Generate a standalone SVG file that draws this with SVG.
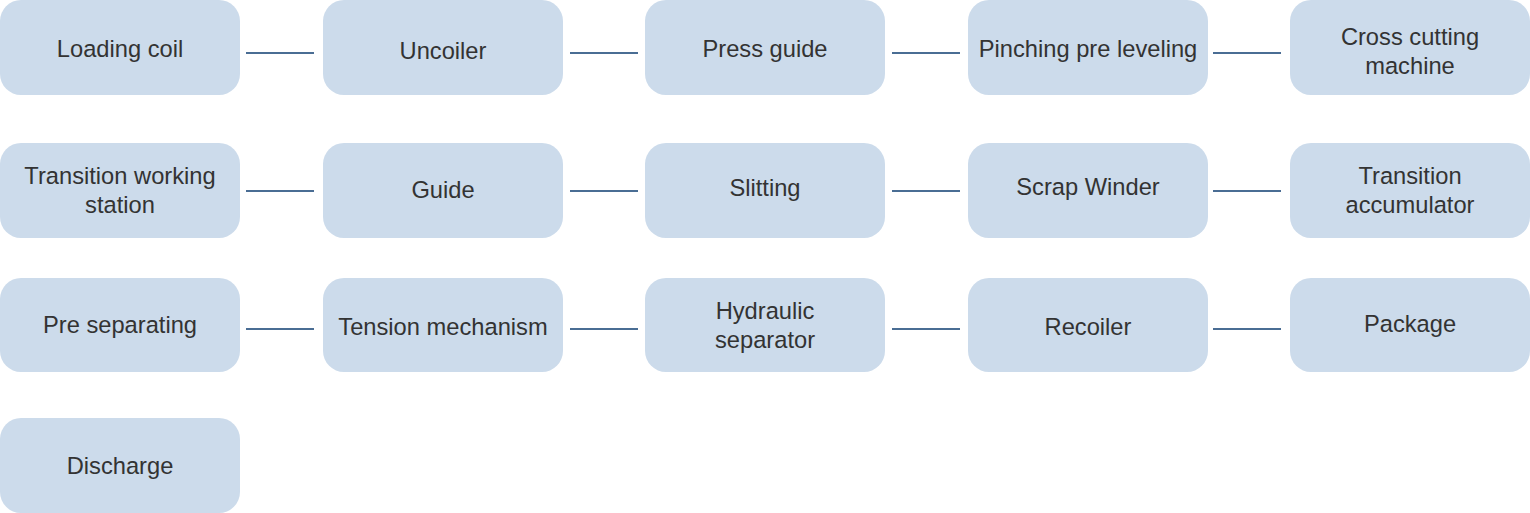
<svg xmlns="http://www.w3.org/2000/svg" width="1530" height="513" viewBox="0 0 1530 513">
<style>
.n rect{fill:#ccdbeb;}
.n text{font-family:"Liberation Sans",Arial,sans-serif;font-size:23.7px;fill:#333333;text-anchor:middle;}
.c line{stroke:#4a6d94;stroke-width:2;}
</style>
<rect width="1530" height="513" fill="#ffffff"/>
<g class="c" id="connectors">
<line x1="246" y1="53" x2="314" y2="53"/>
<line x1="570" y1="53" x2="638" y2="53"/>
<line x1="892" y1="53" x2="960" y2="53"/>
<line x1="1213" y1="53" x2="1281" y2="53"/>
<line x1="246" y1="191" x2="314" y2="191"/>
<line x1="570" y1="191" x2="638" y2="191"/>
<line x1="892" y1="191" x2="960" y2="191"/>
<line x1="1213" y1="191" x2="1281" y2="191"/>
<line x1="246" y1="329" x2="314" y2="329"/>
<line x1="570" y1="329" x2="638" y2="329"/>
<line x1="892" y1="329" x2="960" y2="329"/>
<line x1="1213" y1="329" x2="1281" y2="329"/>
</g>
<g class="n" id="loading-coil"><rect x="0" y="0" width="240" height="95" rx="21"/><text x="120" y="57">Loading coil</text></g>
<g class="n" id="uncoiler"><rect x="323" y="0" width="240" height="95" rx="21"/><text x="443" y="59">Uncoiler</text></g>
<g class="n" id="press-guide"><rect x="645" y="0" width="240" height="95" rx="21"/><text x="765" y="57">Press guide</text></g>
<g class="n" id="pinching"><rect x="968" y="0" width="240" height="95" rx="21"/><text x="1088" y="57">Pinching pre leveling</text></g>
<g class="n" id="cross-cutting"><rect x="1290" y="0" width="240" height="95" rx="21"/><text x="1410" y="45">Cross cutting</text><text x="1410" y="74">machine</text></g>
<g class="n" id="transition-station"><rect x="0" y="143" width="240" height="95" rx="21"/><text x="120" y="184">Transition working</text><text x="120" y="213">station</text></g>
<g class="n" id="guide"><rect x="323" y="143" width="240" height="95" rx="21"/><text x="443" y="198">Guide</text></g>
<g class="n" id="slitting"><rect x="645" y="143" width="240" height="95" rx="21"/><text x="765" y="196">Slitting</text></g>
<g class="n" id="scrap-winder"><rect x="968" y="143" width="240" height="95" rx="21"/><text x="1088" y="195">Scrap Winder</text></g>
<g class="n" id="transition-accumulator"><rect x="1290" y="143" width="240" height="95" rx="21"/><text x="1410" y="184">Transition</text><text x="1410" y="213">accumulator</text></g>
<g class="n" id="pre-separating"><rect x="0" y="278" width="240" height="94" rx="21"/><text x="120" y="333">Pre separating</text></g>
<g class="n" id="tension"><rect x="323" y="278" width="240" height="94" rx="21"/><text x="443" y="335">Tension mechanism</text></g>
<g class="n" id="hydraulic"><rect x="645" y="278" width="240" height="94" rx="21"/><text x="765" y="319">Hydraulic</text><text x="765" y="348">separator</text></g>
<g class="n" id="recoiler"><rect x="968" y="278" width="240" height="94" rx="21"/><text x="1088" y="335">Recoiler</text></g>
<g class="n" id="package"><rect x="1290" y="278" width="240" height="94" rx="21"/><text x="1410" y="332">Package</text></g>
<g class="n" id="discharge"><rect x="0" y="418" width="240" height="95" rx="21"/><text x="120" y="474">Discharge</text></g>
</svg>
